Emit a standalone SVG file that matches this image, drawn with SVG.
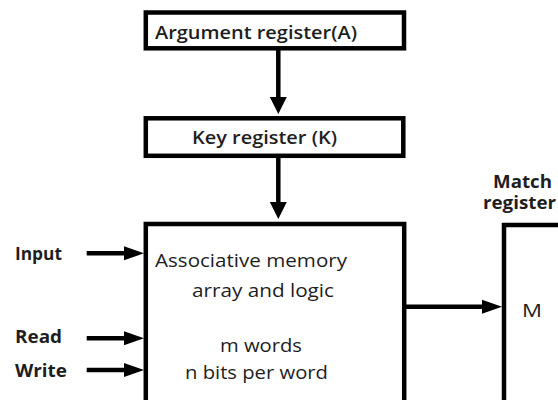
<svg xmlns="http://www.w3.org/2000/svg" width="558" height="400" viewBox="0 0 558 400">
  <style>
    .box { fill: #ffffff; stroke: #000000; stroke-width: 4.5; }
    .wire { fill: none; stroke: #000000; stroke-width: 4.5; }
    .txt { font-family: "Open Sans", "Liberation Sans", sans-serif; font-size: 17.5px; fill: #1e1e1e; font-weight: 500; }
    .reg { font-weight: 600; }
    .lbl { font-weight: 700; }
  </style>
  <defs>
    <marker id="headV" markerUnits="userSpaceOnUse" markerWidth="18" markerHeight="18" refX="0" refY="8.5" orient="auto" viewBox="0 0 18 17">
      <path d="M0,0 L17,8.5 L0,17 Z" fill="#000000"/>
    </marker>
    <marker id="headH" markerUnits="userSpaceOnUse" markerWidth="21" markerHeight="15" refX="0" refY="7" orient="auto" viewBox="0 0 21 14">
      <path d="M0,0 L20,7 L0,14 Z" fill="#000000"/>
    </marker>
  </defs>
  <rect width="558" height="400" fill="#ffffff"/>

  <!-- connectors -->
  <g id="connectors">
    <line class="wire" x1="278.3" y1="50" x2="278.3" y2="97" marker-end="url(#headV)"/>
    <line class="wire" x1="278.3" y1="157" x2="278.3" y2="202" marker-end="url(#headV)"/>
    <line class="wire" x1="86.7" y1="253.3" x2="124" y2="253.3" marker-end="url(#headH)"/>
    <line class="wire" x1="86.7" y1="338.3" x2="124" y2="338.3" marker-end="url(#headH)"/>
    <line class="wire" x1="86.7" y1="370" x2="124" y2="370" marker-end="url(#headH)"/>
    <line class="wire" x1="406" y1="306.7" x2="482" y2="306.7" marker-end="url(#headH)"/>
  </g>

  <!-- argument register -->
  <g id="argument-register">
    <rect class="box" x="145.8" y="12.5" width="258.2" height="35.8"/>
    <text class="txt reg" x="155" y="38.8" textLength="202" lengthAdjust="spacingAndGlyphs">Argument register(A)</text>
  </g>

  <!-- key register -->
  <g id="key-register">
    <rect class="box" x="145.8" y="118.3" width="257.5" height="37.5"/>
    <text class="txt reg" x="192" y="144.3" textLength="145" lengthAdjust="spacingAndGlyphs">Key register (K)</text>
  </g>

  <!-- associative memory array -->
  <g id="associative-memory">
    <rect class="box" x="145.8" y="224" width="258.4" height="190"/>
    <text class="txt" x="155" y="266.7" textLength="192" lengthAdjust="spacingAndGlyphs">Associative memory</text>
    <text class="txt" x="192" y="297" textLength="142" lengthAdjust="spacingAndGlyphs">array and logic</text>
    <text class="txt" x="220" y="352" textLength="82" lengthAdjust="spacingAndGlyphs">m words</text>
    <text class="txt" x="185" y="379" textLength="143" lengthAdjust="spacingAndGlyphs">n bits per word</text>
  </g>

  <!-- match register -->
  <g id="match-register">
    <rect class="box" x="504" y="225" width="80" height="190"/>
    <text class="txt lbl" x="493" y="187.7" textLength="59" lengthAdjust="spacingAndGlyphs">Match</text>
    <text class="txt lbl" x="483" y="209.3" textLength="73" lengthAdjust="spacingAndGlyphs">register</text>
    <text class="txt" x="522" y="316.7" textLength="20" lengthAdjust="spacingAndGlyphs">M</text>
  </g>

  <!-- control inputs -->
  <g id="input-label">
    <text class="txt lbl" x="15" y="260" textLength="47" lengthAdjust="spacingAndGlyphs">Input</text>
  </g>
  <g id="read-label">
    <text class="txt lbl" x="15" y="343" textLength="47" lengthAdjust="spacingAndGlyphs">Read</text>
  </g>
  <g id="write-label">
    <text class="txt lbl" x="15" y="376.7" textLength="52" lengthAdjust="spacingAndGlyphs">Write</text>
  </g>
</svg>
